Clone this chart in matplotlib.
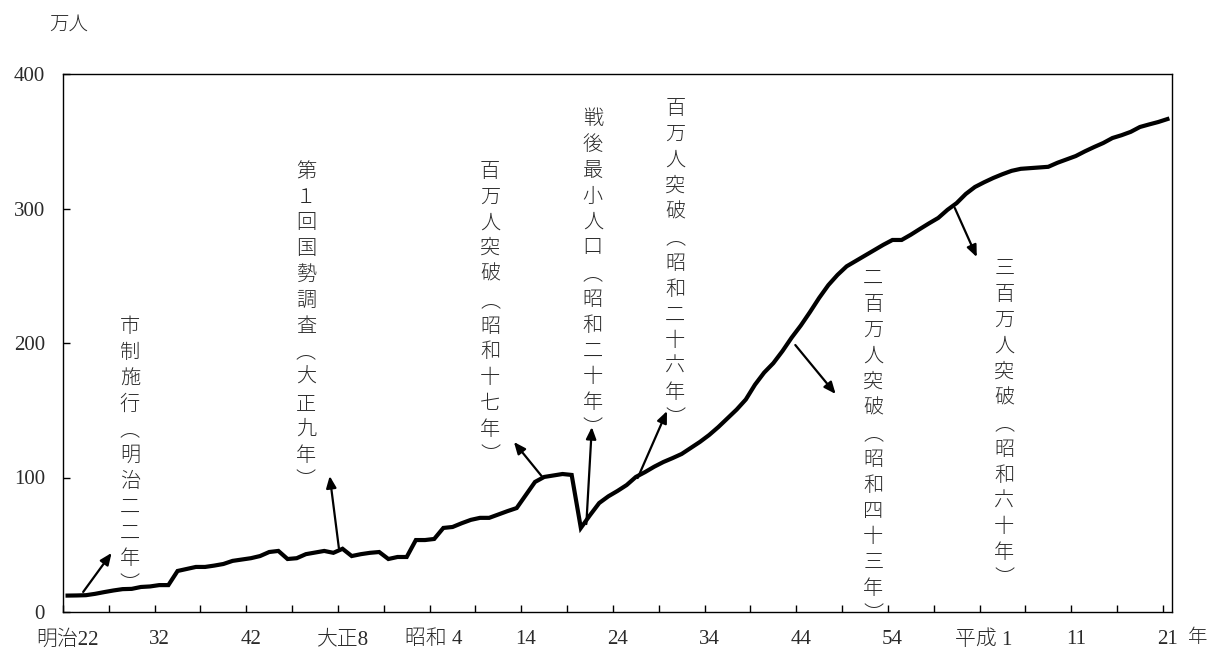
import matplotlib
matplotlib.use("Agg")
import matplotlib.pyplot as plt
import numpy as np

# ---------------- data ----------------
years = list(range(1889, 2010))
population = [
    12.2, 12.3, 12.5, 13.5, 14.8, 16.0, 17.0, 17.2, 18.6, 19.0,   # 1889-1898
    20.0, 20.0, 30.5, 32.0, 33.5, 33.5, 34.5, 35.7, 38.0, 39.0,   # 1899-1908
    40.0, 41.6, 44.6, 45.4, 39.4, 40.0, 43.0, 44.2, 45.4, 44.0,   # 1909-1918
    47.0, 41.6, 43.0, 44.0, 44.6, 39.4, 40.9, 40.9, 53.5, 53.5,   # 1919-1928
    54.3, 62.5, 63.2, 66.0, 68.5, 70.0, 70.0, 72.5, 75.0, 77.3,   # 1929-1938
    87.0, 96.7, 100.4, 101.5, 102.6, 101.9, 62.5, 72.0, 81.0, 86.0,  # 1939-1948
    90.0, 94.4, 100.4, 104.0, 108.0, 111.5, 114.4, 117.5, 122.0, 126.5,  # 1949-1958
    131.6, 137.5, 144.0, 150.5, 158.0, 169.0, 178.0, 185.0, 194.0, 204.0,  # 1959-1968
    213.0, 223.0, 233.5, 243.0, 250.6, 257.0, 261.0, 265.0, 269.0, 273.0,  # 1969-1978
    276.6, 276.6, 280.5, 284.8, 289.0, 293.0, 299.0, 304.0, 310.8, 316.0,  # 1979-1988
    319.5, 322.7, 325.5, 328.0, 329.5, 330.0, 330.5, 331.0, 334.0, 336.5,  # 1989-1998
    339.0, 342.5, 345.7, 348.7, 352.4, 354.5, 357.0, 360.6, 362.5, 364.3,  # 1999-2008
    366.5,                                                                 # 2009
]

tick_years = [1889, 1899, 1909, 1919, 1929, 1939, 1949, 1959, 1969, 1979, 1989, 1999, 2009]
tick_labels = ["明治22", "32", "42", "大正8", "昭和 4", "14", "24", "34", "44", "54", "平成 1", "11", "21"]
y_ticks = [0, 100, 200, 300, 400]

# annotations: text, text anchor (x, top y), arrow tail, arrow head
ann_texts = [
    "市制施行︵明治二二年︶",
    "第１回国勢調査︵大正九年︶",
    "百万人突破︵昭和十七年︶",
    "戦後最小人口︵昭和二十年︶",
    "百万人突破︵昭和二十六年︶",
    "二百万人突破︵昭和四十三年︶",
    "三百万人突破︵昭和六十年︶",
]
ann_text_pos = [(1895.8, 220), (1915.0, 335.5), (1935.1, 335.5), (1946.3, 374.5),
                (1955.3, 382), (1976.9, 255.5), (1991.2, 263)]
arrow_tail = [(1890.7, 14.9), (1918.6, 47.6), (1940.8, 100.4), (1945.6, 65.4),
              (1951.2, 99.6), (1968.4, 198.5), (1985.8, 300.4)]
arrow_head = [(1893.8, 43.9), (1917.6, 101.1), (1937.7, 126.4), (1946.2, 137.5),
              (1954.4, 149.4), (1972.8, 162.1), (1988.2, 263.9)]

# ---------------- figure ----------------
SERIF_JP = ["Liberation Serif", "Noto Sans CJK JP"]
JP = ["Noto Sans CJK JP", "DejaVu Sans"]
TEXT_COLOR = "#2a2a2a"

fig = plt.figure(figsize=(12.08, 6.54), dpi=100)
ax = fig.add_axes([63 / 1208, 1 - 612 / 654, (1172 - 63) / 1208, (612 - 74) / 654])

ax.plot(years, population, color="black", lw=3.0, solid_joinstyle="miter")

ax.set_xlim(1888.5, 2009.5)
ax.set_ylim(0, 400)

ax.set_xticks(tick_years)
ax.set_xticklabels(tick_labels, family=SERIF_JP, fontsize=15, fontweight="light",
                   color=TEXT_COLOR)
ax.set_xticks(np.arange(1888.5, 2009.5, 5), minor=True)
ax.tick_params(axis="x", which="major", length=0, pad=13)
ax.tick_params(axis="x", which="minor", direction="in", length=5, width=1)

ax.set_yticks(y_ticks)
ax.set_yticklabels([str(v) for v in y_ticks], family=SERIF_JP, fontsize=15, color=TEXT_COLOR)
ax.tick_params(axis="y", direction="in", length=5, width=1, pad=13)

for s in ax.spines.values():
    s.set_linewidth(1.0)
    s.set_color("black")

# vertical annotation texts (stacked characters) and arrows
step = 25.8 * 72 / 100  # points between characters
for txt, (tx, ty), tail, head in zip(ann_texts, ann_text_pos, arrow_tail, arrow_head):
    for i, ch in enumerate(txt):
        ax.annotate(ch, xy=(tx, ty), xytext=(0, -i * step), textcoords="offset points",
                    ha="center", va="top", fontsize=14.5, family=JP, fontweight="light",
                    color=TEXT_COLOR)
    ax.annotate("", xy=head, xytext=tail,
                arrowprops=dict(arrowstyle="-|>,head_length=0.7,head_width=0.3",
                                color="black", lw=1.6, shrinkA=0, shrinkB=0))

fig.text(69 / 1208, 1 - 24 / 654, "万人", family=JP, fontsize=14, fontweight="light",
         ha="center", va="center", color=TEXT_COLOR)
fig.text(1198 / 1208, 1 - 638 / 654, "年", family=JP, fontsize=14, fontweight="light",
         ha="center", va="center", color=TEXT_COLOR)

fig.savefig("out.png", dpi=100)
